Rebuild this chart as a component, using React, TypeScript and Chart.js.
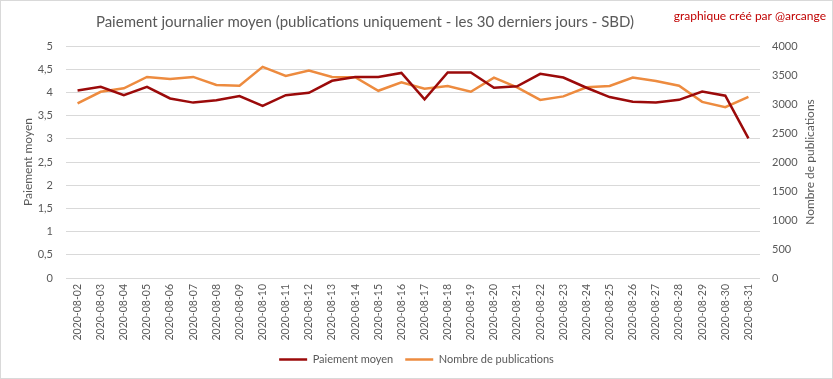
import React, { useEffect, useRef } from "react";
import { Chart, registerables } from "chart.js";

Chart.register(...registerables);

const dates: string[] = [
  "2020-08-02", "2020-08-03", "2020-08-04", "2020-08-05", "2020-08-06",
  "2020-08-07", "2020-08-08", "2020-08-09", "2020-08-10", "2020-08-11",
  "2020-08-12", "2020-08-13", "2020-08-14", "2020-08-15", "2020-08-16",
  "2020-08-17", "2020-08-18", "2020-08-19", "2020-08-20", "2020-08-21",
  "2020-08-22", "2020-08-23", "2020-08-24", "2020-08-25", "2020-08-26",
  "2020-08-27", "2020-08-28", "2020-08-29", "2020-08-30", "2020-08-31",
];

const paiementMoyen: number[] = [
  4.04, 4.12, 3.94, 4.12, 3.87, 3.78, 3.83, 3.92, 3.71, 3.94,
  3.99, 4.25, 4.33, 4.33, 4.42, 3.85, 4.43, 4.43, 4.1, 4.13,
  4.4, 4.32, 4.1, 3.9, 3.8, 3.78, 3.84, 4.02, 3.93, 3.01,
];

const nombrePublications: number[] = [
  3009, 3211, 3270, 3467, 3432, 3467, 3328, 3315, 3641, 3484,
  3577, 3467, 3462, 3228, 3374, 3263, 3310, 3211, 3455, 3287,
  3071, 3131, 3287, 3310, 3455, 3397, 3315, 3037, 2944, 3124,
];

const titleText = "Paiement journalier moyen (publications uniquement - les 30 derniers jours - SBD)";
const creditText = "graphique créé par @arcange";
const seriesNames = ["Paiement moyen", "Nombre de publications"];
const axisTitles = ["Paiement moyen", "Nombre de publications"];

const FONT = "Lato, 'Liberation Sans', sans-serif";
const GREY = "#595959";

export default function App() {
  const ref = useRef<HTMLCanvasElement | null>(null);

  useEffect(() => {
    if (!ref.current) return;
    const decor = {
      id: "decor",
      afterDraw(chart: any) {
        const ctx = chart.ctx;
        ctx.save();
        ctx.strokeStyle = "#d9d9d9";
        ctx.lineWidth = 1;
        ctx.strokeRect(0.5, 0.5, chart.width - 1, chart.height - 1);
        ctx.fillStyle = GREY;
        ctx.font = `15px ${FONT}`;
        ctx.textAlign = "center";
        ctx.textBaseline = "middle";
        ctx.fillText(titleText, 365, 22);
        // right axis title, reading bottom-to-top like the reference
        const area = chart.chartArea;
        ctx.save();
        ctx.translate(810, (area.top + area.bottom) / 2);
        ctx.rotate(-Math.PI / 2);
        ctx.font = `12px ${FONT}`;
        ctx.fillText(axisTitles[1], 0, 0);
        ctx.restore();
        ctx.fillStyle = "#c00000";
        ctx.font = `12px ${FONT}`;
        ctx.textAlign = "right";
        ctx.textBaseline = "middle";
        ctx.fillText(creditText, 826, 16);
        ctx.restore();
      },
    };
    const chart = new Chart(ref.current, {
      type: "line",
      data: {
        labels: dates,
        datasets: [
          {
            label: seriesNames[0],
            data: paiementMoyen,
            borderColor: "#9b0a0a",
            backgroundColor: "#9b0a0a",
            borderWidth: 2.5,
            pointRadius: 0,
            tension: 0,
            yAxisID: "y",
          },
          {
            label: seriesNames[1],
            data: nombrePublications,
            borderColor: "#ed8b3f",
            backgroundColor: "#ed8b3f",
            borderWidth: 2.5,
            pointRadius: 0,
            tension: 0,
            yAxisID: "y1",
          },
        ],
      },
      options: {
        responsive: false,
        animation: false,
        devicePixelRatio: 1,
        layout: { padding: { top: 46, bottom: 4, left: 0, right: 0 } },
        plugins: {
          title: { display: false },
          tooltip: { enabled: false },
          legend: {
            position: "bottom",
            labels: {
              usePointStyle: true,
              pointStyle: "line",
              pointStyleWidth: 28,
              color: GREY,
              font: { family: FONT, size: 11 },
              padding: 12,
            },
          },
        },
        scales: {
          x: {
            offset: true,
            grid: { display: false, drawTicks: false },
            border: { display: false },
            ticks: {
              minRotation: 90,
              maxRotation: 90,
              autoSkip: false,
              padding: 6,
              color: GREY,
              font: { family: FONT, size: 10.5 },
            },
            afterFit: (s: any) => {
              s.height = 64;
            },
          },
          y: {
            position: "left",
            min: 0,
            max: 5,
            grid: { color: "#d9d9d9", drawTicks: false, lineWidth: 1 },
            border: { display: false },
            ticks: {
              stepSize: 0.5,
              padding: 13,
              color: GREY,
              font: { family: FONT, size: 11 },
              callback: (v: any) => String(v).replace(".", ","),
            },
            title: {
              display: true,
              text: axisTitles[0],
              color: GREY,
              font: { family: FONT, size: 12 },
              padding: { top: 21, bottom: 0 },
            },
            afterFit: (s: any) => {
              s.width = 66;
            },
          },
          y1: {
            position: "right",
            min: 0,
            max: 4000,
            grid: { display: false, drawTicks: false },
            border: { display: false },
            ticks: {
              stepSize: 500,
              padding: 12,
              color: GREY,
              font: { family: FONT, size: 11 },
              callback: (v: any) => String(v),
            },
            title: { display: false },
            afterFit: (s: any) => {
              s.width = 73;
            },
          },
        },
      },
      plugins: [decor],
    });
    return () => chart.destroy();
  }, []);

  return (
    <div style={{ position: "absolute", left: 0, top: 0, width: 833, height: 379, background: "#fff" }}>
      <canvas ref={ref} width={833} height={379} />
    </div>
  );
}
